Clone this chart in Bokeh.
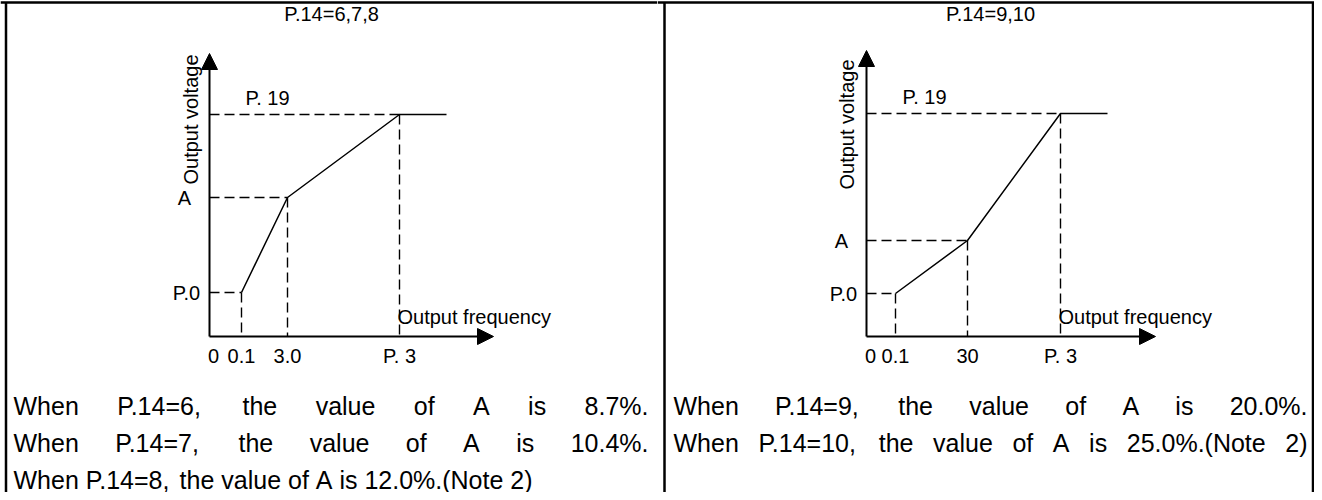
import math
from bokeh.plotting import figure
from bokeh.layouts import row
from bokeh.models import Range1d, Arrow, NormalHead
from bokeh.core.properties import value
from bokeh.embed import file_html
from bokeh.resources import INLINE

# ---------------- data (schematic positions, 1 unit ~ 10 px) -------------
titles = ["P.14=6,7,8", "P.14=9,10"]

freq_labels_left = ["0", "0.1", "3.0", "P. 3"]
freq_pos_left = [0.0, 3.2, 7.8, 19.0]
volt_labels_left = ["P.0", "A", "P. 19"]
volt_pos_left = [4.4, 13.9, 22.2]
flat_end_left = 23.7

freq_labels_right = ["0", "0.1", "30", "P. 3"]
freq_pos_right = [0.0, 2.9, 10.1, 19.4]
volt_labels_right = ["P.0", "A", "P. 19"]
volt_pos_right = [4.3, 9.6, 22.3]
flat_end_right = 24.1

notes_left = [
    "When P.14=6, the value of A is 8.7%.",
    "When P.14=7, the value of A is 10.4%.",
    "When P.14=8, the value of A is 12.0%.(Note 2)",
]
notes_left_justify = [True, True, False]
notes_right = [
    "When P.14=9, the value of A is 20.0%.",
    "When P.14=10, the value of A is 25.0%.(Note 2)",
]
notes_right_justify = [True, True]

# ---------------- style ----------------
FONT = value("Liberation Sans")
BODY_PX = 25
LABEL_PX = "20px"
TITLE_PX = "20px"

# Arial / Liberation Sans advance widths (per 1000 em) for justification
CW = {' ': 278, 'W': 944, 'h': 556, 'e': 556, 'n': 556, 'P': 667, '.': 278, '=': 584,
      ',': 278, 't': 278, 'v': 500, 'a': 556, 'l': 222, 'u': 556, 'o': 556, 'f': 278,
      'A': 667, 'i': 222, 's': 500, '%': 889, '(': 333, ')': 333, 'N': 722}


def text_w(s, px):
    return sum(CW.get(c, 556) for c in s) * px / 1000.0


X_RANGE = (-20.9, 44.8)   # 657 px wide panel, axis origin 209 px from its left edge
Y_RANGE = (-15.6, 33.6)   # 492 px tall, axis origin 336 px from the top
UNIT = 10.0  # px per data unit


def make_panel(title, title_x, f_labels, f_pos, v_labels, v_pos, flat_end, notes, justify,
               border_x, x_tip, y_tip, volt_title_x, volt_title_y, text_x0, text_x1):
    p = figure(width=657, height=492, x_range=Range1d(*X_RANGE), y_range=Range1d(*Y_RANGE),
               output_backend="svg", toolbar_location=None, min_border=0)
    p.axis.visible = False
    p.grid.visible = False
    p.outline_line_color = None
    p.background_fill_color = "white"
    p.border_fill_color = "white"

    # table borders
    p.segment(x0=[X_RANGE[0]], y0=[33.4], x1=[X_RANGE[1]], y1=[33.4],
              line_color="black", line_width=2.5)
    p.segment(x0=border_x, y0=[Y_RANGE[0]] * len(border_x), x1=border_x, y1=[33.4] * len(border_x),
              line_color="black", line_width=2.5)

    # axes with arrow heads
    p.add_layout(Arrow(end=NormalHead(size=16, fill_color="black", line_color="black"),
                       x_start=0, y_start=0, x_end=x_tip, y_end=0,
                       line_color="black", line_width=2))
    p.add_layout(Arrow(end=NormalHead(size=16, fill_color="black", line_color="black"),
                       x_start=0, y_start=0, x_end=0, y_end=y_tip,
                       line_color="black", line_width=2))

    # dashed guides
    corner_x = f_pos[1:]
    corner_y = v_pos
    p.segment(x0=[0] * 3, y0=corner_y, x1=corner_x, y1=corner_y,
              line_color="black", line_width=1.4, line_dash="10 5")
    p.segment(x0=corner_x, y0=corner_y, x1=corner_x, y1=[0] * 3,
              line_color="black", line_width=1.4, line_dash="10 5")

    # V/f curve
    p.line(x=corner_x + [flat_end], y=corner_y + [v_pos[-1]], line_color="black", line_width=1.5)

    # title
    p.text(x=[title_x], y=[32.3], text=[title], text_align="center", text_baseline="middle",
           text_font=FONT, text_font_size=TITLE_PX, text_color="black")

    # axis titles
    p.text(x=[volt_title_x], y=[volt_title_y], text=["Output voltage"], angle=math.pi / 2,
           text_align="center", text_baseline="middle",
           text_font=FONT, text_font_size=LABEL_PX, text_color="black")
    p.text(x=[f_pos[-1] - 0.2], y=[2.0], text=["Output frequency"], text_align="left",
           text_baseline="middle", text_font=FONT, text_font_size=LABEL_PX, text_color="black")

    # tick labels
    tx = [f_pos[0] + 0.4] + f_pos[1:]
    p.text(x=tx, y=[-1.9] * len(f_labels), text=f_labels, text_align="center",
           text_baseline="middle", text_font=FONT, text_font_size=LABEL_PX, text_color="black")

    # level labels
    p.text(x=[-2.3, -2.5], y=v_pos[:2], text=v_labels[:2], text_align="center",
           text_baseline="middle", text_font=FONT, text_font_size=LABEL_PX, text_color="black")
    p.text(x=[5.8], y=[v_pos[2] + 1.7], text=[v_labels[2]], text_align="center",
           text_baseline="middle", text_font=FONT, text_font_size=LABEL_PX, text_color="black")

    # notes (justified lines)
    x0_px, x1_px = text_x0 * UNIT, text_x1 * UNIT
    line_y = [-6.9, -10.6, -14.3]
    xs, ys, ts = [], [], []
    for i, (line, just) in enumerate(zip(notes, justify)):
        words = line.split(" ")
        ws = [text_w(w, BODY_PX) for w in words]
        if just and len(words) > 1:
            gap = (x1_px - x0_px - sum(ws)) / (len(words) - 1)
        else:
            gap = text_w(" ", BODY_PX)
        cx = x0_px
        for w, wd in zip(words, ws):
            xs.append(cx / UNIT)
            ys.append(line_y[i])
            ts.append(w)
            cx += wd + gap
    p.text(x=xs, y=ys, text=ts, text_align="left", text_baseline="middle",
           text_font=FONT, text_font_size=f"{BODY_PX}px", text_color="black")
    return p


p_left = make_panel(titles[0], 12.2, freq_labels_left, freq_pos_left, volt_labels_left,
                    volt_pos_left, flat_end_left, notes_left, notes_left_justify,
                    [-20.35], 28.4, 28.3, -1.9, 21.7, -19.6, 43.9)
p_right = make_panel(titles[1], 12.4, freq_labels_right, freq_pos_right, volt_labels_right,
                     volt_pos_right, flat_end_right, notes_right, notes_right_justify,
                     [-20.2, 44.65], 28.9, 28.6, -2.0, 21.2, -19.3, 44.1)

layout = row(p_left, p_right)
open("out.html", "w").write(file_html(layout, INLINE))
